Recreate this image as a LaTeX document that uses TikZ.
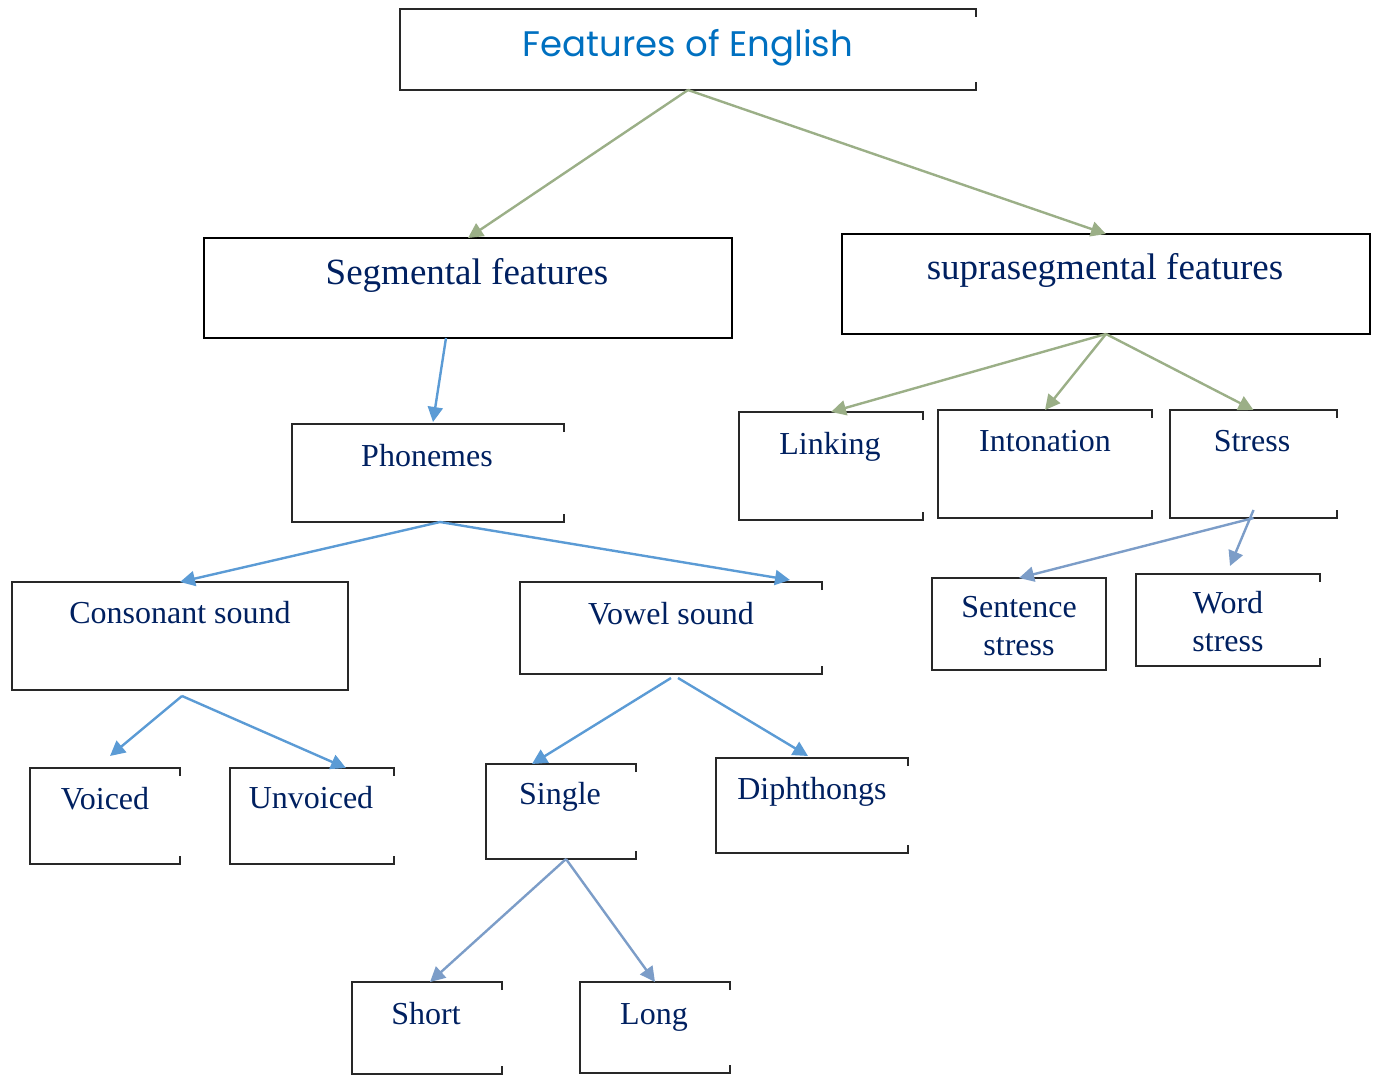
\documentclass[tikz,border=0pt]{standalone}
\usepackage{fontspec}
\setmainfont{Liberation Serif}
\newfontfamily\titlefont{Poppins}
\usepackage{tikz}
\usetikzlibrary{arrows.meta}
\definecolor{PhonNavy}{RGB}{0,32,96}
\definecolor{PhonTitle}{RGB}{0,112,192}
\definecolor{PhonSage}{RGB}{155,175,135}
\definecolor{PhonBlue}{RGB}{91,155,213}
\definecolor{PhonSteel}{RGB}{124,157,200}
\definecolor{PhonEdge}{RGB}{40,40,40}

\tikzset{
  box/.style={draw=PhonEdge, line width=1.5pt, inner sep=0pt, outer sep=0pt, anchor=north west},
  heavybox/.style={box, draw=black, line width=2.6pt},
  openbox/.style={inner sep=0pt, outer sep=0pt, anchor=north west},
  rim/.style={draw=PhonEdge, line width=1.5pt},
  lbl/.style={font=\fontsize{32}{38}\selectfont, text=PhonNavy, inner sep=0pt, anchor=base},
  biglbl/.style={lbl, font=\fontsize{37}{44}\selectfont},
  sagearr/.style={draw=PhonSage, line width=2.4pt, -{Triangle[length=15pt,width=15pt]}},
  bluearr/.style={sagearr, draw=PhonBlue},
  steelarr/.style={sagearr, draw=PhonSteel},
}

\begin{document}
\begin{tikzpicture}[x=1pt, y=-1pt]
    \path[use as bounding box] (0,0) rectangle (1376,1075);

    % boxes
    \node[openbox, minimum width=576pt, minimum height=81pt] (title) at (400,9) {};
    \node[heavybox, minimum width=528pt, minimum height=100pt] (seg) at (204,238) {};
    \node[heavybox, minimum width=528pt, minimum height=100pt] (supra) at (842,234) {};
    \node[openbox, minimum width=272pt, minimum height=98pt] (phon) at (292,424) {};
    \node[openbox, minimum width=184pt, minimum height=108pt] (link) at (739,412) {};
    \node[openbox, minimum width=214pt, minimum height=108pt] (inton) at (938,410) {};
    \node[openbox, minimum width=167pt, minimum height=108pt] (stress) at (1170,410) {};
    \node[box, minimum width=336pt, minimum height=108pt] (cons) at (12,582) {};
    \node[openbox, minimum width=302pt, minimum height=92pt] (vowel) at (520,582) {};
    \node[box, minimum width=174pt, minimum height=92pt] (sent) at (932,578) {};
    \node[openbox, minimum width=184pt, minimum height=92pt] (word) at (1136,574) {};
    \node[openbox, minimum width=150pt, minimum height=96pt] (voiced) at (30,768) {};
    \node[openbox, minimum width=164pt, minimum height=96pt] (unv) at (230,768) {};
    \node[openbox, minimum width=150pt, minimum height=95pt] (single) at (486,764) {};
    \node[openbox, minimum width=192pt, minimum height=95pt] (diph) at (716,758) {};
    \node[openbox, minimum width=150pt, minimum height=92pt] (short) at (352,982) {};
    \node[openbox, minimum width=150pt, minimum height=91pt] (long) at (580,982) {};

    \foreach \b in {title,phon,link,inton,stress,vowel,word,voiced,unv,single,diph,short,long}
      \draw[rim] ([yshift=-8pt]\b.north east) -- (\b.north east) -- (\b.north west)
        -- (\b.south west) -- (\b.south east) -- ([yshift=8pt]\b.south east);

    % texts
    \node[lbl, font=\titlefont\fontsize{35.5}{40}\selectfont, text=PhonTitle] (title-t) at (688,57) {Features of English};
    \node[biglbl] (seg-t) at (467,285) {Segmental features};
    \node[biglbl] (supra-t) at (1105,280) {suprasegmental features};
    \node[lbl] (phon-t) at (427,466) {Phonemes};
    \node[lbl] (link-t) at (830,454) {Linking};
    \node[lbl] (inton-t) at (1045,451) {Intonation};
    \node[lbl] (stress-t) at (1252,451) {Stress};
    \node[lbl] (cons-t) at (180,623) {Consonant sound};
    \node[lbl] (vowel-t) at (671,624) {Vowel sound};
    \node[lbl, align=center, anchor=center] (sent-t) at (1019,626) {Sentence\\stress};
    \node[lbl, align=center, anchor=center] (word-t) at (1228,622) {Word\\stress};
    \node[lbl] (voiced-t) at (105,809) {Voiced};
    \node[lbl] (unv-t) at (311,808) {Unvoiced};
    \node[lbl] (single-t) at (560,804) {Single};
    \node[lbl] (diph-t) at (812,799) {Diphthongs};
    \node[lbl] (short-t) at (426,1024) {Short};
    \node[lbl] (long-t) at (654,1024) {Long};

    % arrows
    \draw[sagearr] (title.south) -- (seg.north);
    \draw[sagearr] (title.south) -- (supra.north);
    \draw[sagearr] (supra.south) -- (link.north);
    \draw[sagearr] (supra.south) -- (inton.north);
    \draw[sagearr] (supra.south) -- (stress.north);
    \draw[bluearr] ([xshift=-22pt]seg.south) -- ([xshift=5pt,yshift=2pt]phon.north);
    \draw[bluearr] ([xshift=12pt]phon.south) -- (cons.north);
    \draw[bluearr] ([xshift=12pt]phon.south) -- ([xshift=-32pt,yshift=2pt]vowel.north east);
    \draw[bluearr] ([xshift=2pt,yshift=-6pt]cons.south) -- ([xshift=5pt,yshift=12pt]voiced.north);
    \draw[bluearr] ([xshift=2pt,yshift=-6pt]cons.south) -- ([xshift=34pt]unv.north);
    \draw[bluearr] ([yshift=-4pt]vowel.south) -- ([xshift=-29pt]single.north);
    \draw[bluearr] ([xshift=7pt,yshift=-4pt]vowel.south) -- ([xshift=-4pt,yshift=2pt]diph.north);
    \draw[steelarr] (stress.south) -- (sent.north);
    \draw[steelarr] ([yshift=8pt]stress.south) -- ([xshift=2pt,yshift=8pt]word.north);
    \draw[steelarr] ([xshift=5pt]single.south) -- ([xshift=3pt]short.north);
    \draw[steelarr] ([xshift=5pt]single.south) -- (long.north);
\end{tikzpicture}
\end{document}
